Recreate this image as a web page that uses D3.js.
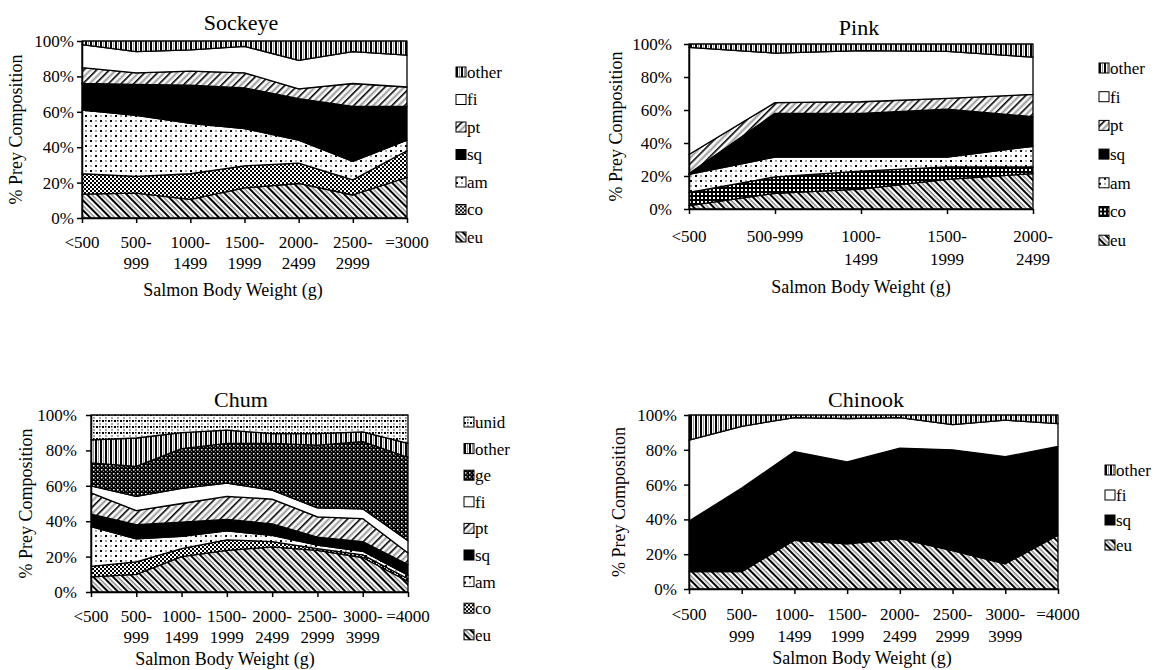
<!DOCTYPE html>
<html>
<head>
<meta charset="utf-8">
<script src="https://cdn.jsdelivr.net/npm/d3@7"></script>
<style>
  body { margin: 0; background: #fff; }
  svg, svg text { font-family: "Liberation Serif", "Times New Roman", Times, "DejaVu Serif", serif !important; fill: #000; }
</style>
</head>
<body>
<svg id="chart" width="1165" height="670"></svg>
<script>
// ── Data (percent of prey composition per weight class) ──────────────────────
const sockeyeCats = [["<500"], ["500-", "999"], ["1000-", "1499"], ["1500-", "1999"], ["2000-", "2499"], ["2500-", "2999"], ["=3000"]];
const sockeyeKeys = ["eu", "co", "am", "sq", "pt", "fi", "other"];
const sockeyeEu = [13.5, 14, 10.5, 17, 19.5, 13, 23];
const sockeyeCo = [11.5, 9.5, 14.5, 12.5, 11.5, 8.5, 15];
const sockeyeAm = [36, 34.5, 28.5, 21, 13, 10.5, 6];
const sockeyeSq = [15, 17.5, 21.5, 23, 23.5, 31, 19];
const sockeyePt = [9, 6.5, 8, 8.5, 5.5, 13, 11];
const sockeyeFi = [13, 12, 12, 15, 16, 18, 18];
const sockeyeOther = [2, 6, 5, 3, 11, 6, 8];

const pinkCats = [["<500"], ["500-999"], ["1000-", "1499"], ["1500-", "1999"], ["2000-", "2499"]];
const pinkKeys = ["eu", "co", "am", "sq", "pt", "fi", "other"];
const pinkEu = [2, 9.5, 12, 18, 21.5];
const pinkCo = [8, 10, 11, 7.5, 4];
const pinkAm = [11, 12, 8.5, 6, 12.5];
const pinkSq = [0.5, 26.5, 26.5, 29, 18];
const pinkPt = [11.5, 6.5, 7, 6.5, 13.5];
const pinkFi = [65, 30, 31, 28.5, 22.5];
const pinkOther = [2, 5.5, 4, 4.5, 8];

const chumCats = [["<500"], ["500-", "999"], ["1000-", "1499"], ["1500-", "1999"], ["2000-", "2499"], ["2500-", "2999"], ["3000-", "3999"], ["=4000"]];
const chumKeys = ["eu", "co", "am", "sq", "pt", "fi", "ge", "other", "unid"];
const chumEu = [8.5, 10, 20, 23.5, 25.5, 23.5, 19.5, 6];
const chumCo = [6, 7, 4.5, 6, 3, 1, 1.5, 1.5];
const chumAm = [22.5, 13, 7, 5, 3.5, 2, 2, 2];
const chumSq = [7, 8, 8, 6.5, 6.5, 4.5, 5.5, 6];
const chumPt = [12, 8, 10.5, 13, 14, 11.5, 13, 6.5];
const chumFi = [4, 8, 8.5, 7.5, 5, 5, 5.5, 7];
const chumGe = [13, 17, 22.5, 22.5, 26.5, 35.5, 38, 47];
const chumOther = [13, 16, 9, 7.5, 5.5, 6.5, 5.5, 8];
const chumUnid = [14, 13, 10, 8.5, 10.5, 10.5, 9.5, 16];

const chinookCats = [["<500"], ["500-", "999"], ["1000-", "1499"], ["1500-", "1999"], ["2000-", "2499"], ["2500-", "2999"], ["3000-", "3999"], ["=4000"]];
const chinookKeys = ["eu", "sq", "fi", "other"];
const chinookEu = [10, 10, 28, 26, 29, 22, 14.5, 31];
const chinookSq = [29, 48, 51, 47, 52, 58, 61.5, 51];
const chinookFi = [46.5, 35.5, 19.5, 25, 17.5, 14.5, 21, 13];
const chinookOther = [14.5, 6.5, 1.5, 2, 1.5, 5.5, 3, 5];

const yTicks = [0, 20, 40, 60, 80, 100];

// rows for d3.stack
function toRows(cats, keys, series) {
  return cats.map((c, i) => {
    const row = { cat: i };
    keys.forEach((k, j) => (row[k] = series[j][i]));
    return row;
  });
}

const svg = d3.select("#chart");
const FONT = '"Liberation Serif", "Times New Roman", Times, "DejaVu Serif", serif';

// ── Fill patterns (black & white, like the original) ─────────────────────────
const defs = svg.append("defs");

function stripePattern(id, angle, period, lines) {
  const p = defs.append("pattern")
    .attr("id", id)
    .attr("patternUnits", "userSpaceOnUse")
    .attr("width", period)
    .attr("height", period)
    .attr("patternTransform", `rotate(${angle})`);
  p.append("rect").attr("width", period).attr("height", period).attr("fill", "#fff");
  lines.forEach((l) =>
    p.append("rect").attr("x", l.x).attr("y", 0).attr("width", l.w).attr("height", period).attr("fill", l.c)
  );
}

function cellPattern(id, size, bg, cells) {
  const p = defs.append("pattern")
    .attr("id", id)
    .attr("patternUnits", "userSpaceOnUse")
    .attr("width", size)
    .attr("height", size);
  p.append("rect").attr("width", size).attr("height", size).attr("fill", bg);
  cells.forEach((c) =>
    p.append("rect").attr("x", c[0]).attr("y", c[1]).attr("width", c[2]).attr("height", c[2]).attr("fill", c[3])
  );
}

stripePattern("pat-eu", -45, 7, [{ x: 0, w: 2, c: "#000" }, { x: 3.5, w: 1.5, c: "#8a8a8a" }]);
stripePattern("pat-pt", 45, 9, [{ x: 0, w: 1.6, c: "#000" }, { x: 4.5, w: 2, c: "#999" }]);
stripePattern("pat-other", 0, 5, [{ x: 0, w: 2, c: "#000" }, { x: 3, w: 1, c: "#999" }]);
cellPattern("pat-co", 4, "#fff", [[0, 0, 2, "#000"], [2, 2, 2, "#000"]]);
cellPattern("pat-coGrid", 4, "#000", [[1, 1, 2, "#fff"]]);
cellPattern("pat-am", 10, "#fff", [[0, 0, 2, "#000"], [5, 5, 2, "#000"], [5, 0, 2, "#aaa"], [0, 5, 2, "#aaa"]]);
cellPattern("pat-unid", 6, "#fff", [[0, 0, 2, "#000"], [3, 3, 2, "#aaa"], [3, 0, 1.5, "#000"]]);
cellPattern("pat-ge", 4, "#000", [[1, 1, 1.5, "#fff"], [3, 3, 1, "#888"]]);
cellPattern("pat-sq", 4, "#000", []);
cellPattern("pat-fi", 4, "#fff", []);

// ── Panels ───────────────────────────────────────────────────────────────────
const panels = [
  {
    title: "Sockeye", cats: sockeyeCats, keys: sockeyeKeys,
    series: [sockeyeEu, sockeyeCo, sockeyeAm, sockeyeSq, sockeyePt, sockeyeFi, sockeyeOther],
    x0: 82, x1: 407, yTop: 41, yBot: 218, titleX: 241, titleY: 30,
    yTitleX: 16, yPad: 3, xLab1: 248, xLab2: 269, xTitleX: 233, xTitleY: 296,
    legX: 456, legY: 72, legStep: 27.5, pat: {},
  },
  {
    title: "Pink", cats: pinkCats, keys: pinkKeys,
    series: [pinkEu, pinkCo, pinkAm, pinkSq, pinkPt, pinkFi, pinkOther],
    x0: 689, x1: 1033, yTop: 44, yBot: 209, titleX: 859, titleY: 35,
    yTitleX: 616, yPad: 12, xLab1: 242, xLab2: 265, xTitleX: 861, xTitleY: 293,
    legX: 1099, legY: 68, legStep: 28.7, pat: { co: "coGrid" },
  },
  {
    title: "Chum", cats: chumCats, keys: chumKeys,
    series: [chumEu, chumCo, chumAm, chumSq, chumPt, chumFi, chumGe, chumOther, chumUnid],
    x0: 91, x1: 408, yTop: 415, yBot: 592, titleX: 241, titleY: 407,
    yTitleX: 26, yPad: 9, xLab1: 622, xLab2: 643, xTitleX: 225, xTitleY: 665,
    legX: 464, legY: 422, legStep: 26.6, pat: {},
  },
  {
    title: "Chinook", cats: chinookCats, keys: chinookKeys,
    series: [chinookEu, chinookSq, chinookFi, chinookOther],
    x0: 689, x1: 1058, yTop: 415, yBot: 589, titleX: 866, titleY: 407,
    yTitleX: 619, yPad: 7, xLab1: 620, xLab2: 642, xTitleX: 862, xTitleY: 664,
    legX: 1105, legY: 470, legStep: 25, pat: {},
  },
];

function drawPanel(p) {
  const rows = toRows(p.cats, p.keys, p.series);
  const stacked = d3.stack().keys(p.keys)(rows);
  const x = d3.scalePoint().domain(p.cats.map((c, i) => i)).range([p.x0, p.x1]);
  const y = d3.scaleLinear().domain([0, 100]).range([p.yBot, p.yTop]);
  const patId = (k) => `url(#pat-${p.pat[k] || k})`;

  const g = svg.append("g").attr("font-family", FONT);

  const area = d3.area()
    .x((d) => x(d.data.cat))
    .y0((d) => y(d[0]))
    .y1((d) => y(d[1]));

  g.selectAll(".layer")
    .data(stacked)
    .join("path")
    .attr("class", "layer")
    .attr("d", area)
    .attr("fill", (d) => patId(d.key))
    .attr("stroke", "#000")
    .attr("stroke-width", 1.3)
    .attr("stroke-linejoin", "round");

  // axes
  const yAxis = g.append("g")
    .attr("transform", `translate(${p.x0},0)`)
    .call(d3.axisLeft(y).tickValues(yTicks).tickFormat((d) => d + "%").tickSize(5).tickSizeOuter(0).tickPadding(p.yPad));
  yAxis.attr("font-family", FONT);
  yAxis.selectAll("path,line").attr("stroke", "#000").attr("stroke-width", 1.5);
  yAxis.selectAll("text").attr("font-size", 17).attr("fill", "#000");

  const xAxis = g.append("g")
    .attr("transform", `translate(0,${p.yBot})`)
    .call(d3.axisBottom(x).tickFormat("").tickSize(5).tickSizeOuter(0));
  xAxis.selectAll("path,line").attr("stroke", "#000").attr("stroke-width", 1.5);

  // multi-line category labels
  p.cats.forEach((lines, i) => {
    lines.forEach((t, j) => {
      g.append("text")
        .attr("x", x(i))
        .attr("y", j === 0 ? p.xLab1 : p.xLab2)
        .attr("text-anchor", "middle")
        .attr("font-size", 17)
        .text(t);
    });
  });

  // titles
  g.append("text")
    .attr("x", p.titleX).attr("y", p.titleY)
    .attr("text-anchor", "middle").attr("font-size", 22)
    .text(p.title);
  g.append("text")
    .attr("x", p.xTitleX).attr("y", p.xTitleY)
    .attr("text-anchor", "middle").attr("font-size", 18)
    .text("Salmon Body Weight (g)");
  g.append("text")
    .attr("transform", `translate(${p.yTitleX},${(p.yTop + p.yBot) / 2}) rotate(-90)`)
    .attr("text-anchor", "middle").attr("dy", "0.35em").attr("font-size", 18)
    .text("% Prey Composition");

  // legend, top = last stacked key
  const legKeys = p.keys.slice().reverse();
  const leg = g.selectAll(".leg")
    .data(legKeys)
    .join("g")
    .attr("class", "leg")
    .attr("transform", (d, i) => `translate(${p.legX},${p.legY + i * p.legStep})`);
  leg.append("rect")
    .attr("x", 0).attr("y", -5).attr("width", 10).attr("height", 10)
    .attr("fill", (d) => patId(d))
    .attr("stroke", "#000").attr("stroke-width", 1);
  leg.append("text")
    .attr("x", 11).attr("y", 0).attr("dy", "0.35em")
    .attr("font-size", 17)
    .text((d) => d);
}

panels.forEach(drawPanel);
</script>
</body>
</html>
